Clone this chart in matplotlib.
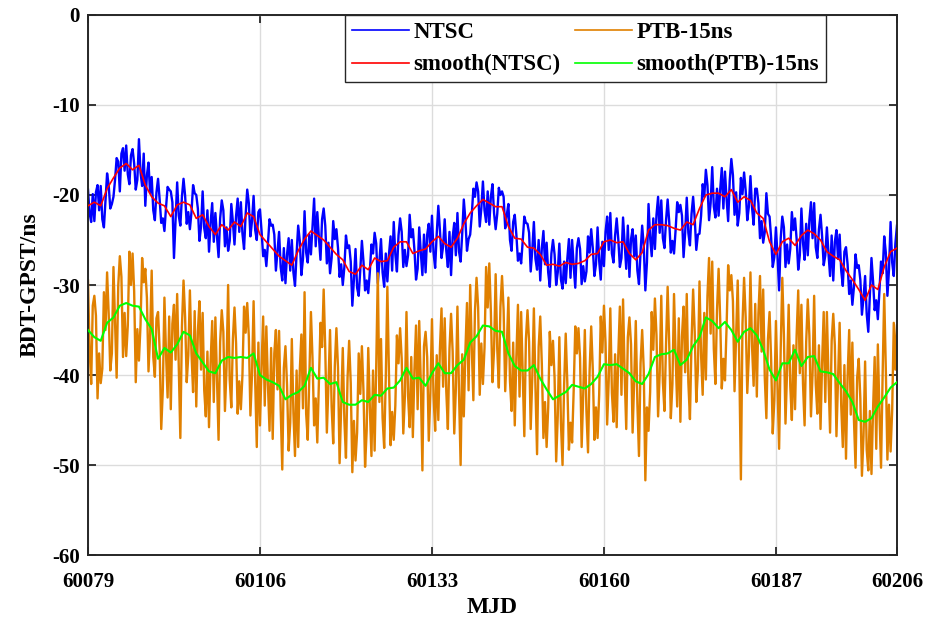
import numpy as np
import matplotlib
matplotlib.use("Agg")
import matplotlib.pyplot as plt

# --- data (MJD 60079 .. 60206) ---
MJD_START = 60079
MJD_END = 60206

# smoothed series, one value per day
smooth_ntsc = [
    -21.2, -20.8, -21.2, -19.3, -18.1, -17.0, -16.5, -17.2, -16.7, -18.9,
    -20.2, -20.9, -21.2, -22.4, -21.1, -20.8, -21.1, -22.6, -22.2, -23.5,
    -24.4, -23.3, -23.9, -23.0, -23.5, -22.0, -22.4, -24.4, -25.2, -26.0,
    -26.8, -27.3, -27.8, -26.2, -24.9, -24.0, -24.5, -25.0, -25.8, -26.6,
    -27.2, -28.5, -28.8, -27.8, -28.3, -27.0, -27.4, -27.3, -25.8, -25.2,
    -25.2, -26.5, -26.2, -26.0, -25.2, -24.6, -25.4, -25.8, -24.8, -23.2,
    -22.0, -21.2, -20.5, -20.9, -21.3, -21.3, -23.5, -24.8, -24.9, -25.8,
    -25.9, -26.6, -27.8, -27.7, -27.9, -27.5, -27.7, -27.6, -27.3, -26.6,
    -26.5, -25.2, -25.0, -25.3, -25.2, -26.5, -27.2, -26.4, -23.9, -23.3,
    -23.3, -23.4, -23.7, -23.9, -23.0, -23.3, -21.5, -20.0, -19.8, -19.8,
    -20.2, -19.4, -20.8, -20.2, -20.6, -22.0, -22.6, -25.2, -26.6, -25.2,
    -24.8, -25.6, -24.5, -23.9, -24.3, -25.0, -26.3, -26.8, -27.2, -28.4,
    -29.4, -30.5, -31.7, -30.0, -30.5, -28.0, -26.3, -25.9,
]
smooth_ptb = [
    -35.0, -35.8, -36.2, -34.2, -33.6, -32.3, -32.0, -32.3, -32.4, -33.8,
    -34.9, -38.2, -37.0, -37.5, -36.6, -35.2, -35.6, -37.6, -38.6, -39.6,
    -39.8, -38.4, -38.0, -38.1, -38.0, -38.1, -37.6, -40.0, -40.5, -40.8,
    -41.2, -42.7, -42.2, -41.9, -41.2, -39.2, -40.4, -40.3, -41.0, -40.8,
    -43.0, -43.3, -43.3, -42.8, -43.0, -42.2, -42.3, -41.5, -41.4, -40.6,
    -39.2, -40.4, -40.3, -41.2, -39.8, -38.7, -39.8, -39.8, -38.9, -38.3,
    -36.4, -35.7, -34.5, -34.6, -35.1, -35.2, -37.6, -39.0, -39.5, -39.5,
    -38.9, -40.4, -41.6, -42.7, -42.3, -41.9, -41.1, -41.3, -41.5, -41.0,
    -40.2, -38.8, -38.9, -38.8, -39.3, -39.8, -40.7, -41.0, -39.9, -38.0,
    -37.7, -37.6, -37.2, -38.9, -38.3, -36.8, -35.8, -33.6, -34.0, -34.8,
    -34.1, -35.0, -36.3, -35.2, -34.8, -35.6, -37.2, -39.4, -40.6, -38.7,
    -38.7, -37.2, -39.0, -38.0, -37.9, -39.6, -39.7, -39.9, -40.9, -41.8,
    -43.0, -45.0, -45.2, -44.8, -43.5, -42.5, -41.4, -40.8,
]

# raw series, four values per day
ntsc = [
    -19.4, -22.0, -23.0, -19.9, -22.9, -19.7, -18.9, -21.7,
    -19.0, -22.7, -23.6, -20.7, -17.6, -18.9, -21.5, -21.0,
    -20.2, -18.3, -15.9, -16.3, -19.6, -15.4, -14.8, -17.3,
    -14.5, -17.7, -18.8, -15.6, -14.9, -16.5, -19.4, -18.3,
    -13.8, -17.5, -19.0, -15.4, -21.2, -17.8, -16.4, -19.8,
    -18.0, -21.7, -22.8, -19.7, -18.2, -20.5, -23.1, -22.6,
    -24.0, -21.4, -19.1, -19.4, -19.6, -20.8, -27.0, -22.7,
    -18.6, -22.3, -23.4, -20.2, -18.2, -20.1, -23.2, -21.9,
    -23.8, -21.9, -18.9, -19.8, -20.0, -21.5, -25.1, -23.5,
    -19.6, -23.7, -24.8, -21.7, -26.3, -23.1, -20.9, -25.2,
    -22.0, -24.6, -26.9, -22.6, -20.6, -21.7, -25.7, -23.6,
    -26.2, -25.1, -21.0, -23.0, -25.5, -22.3, -20.4, -24.1,
    -20.8, -24.3, -26.0, -22.2, -19.4, -20.9, -24.6, -22.9,
    -20.1, -23.9, -25.0, -21.9, -21.6, -24.0, -26.8, -26.1,
    -27.9, -25.4, -22.7, -23.4, -23.3, -24.4, -28.4, -26.3,
    -24.1, -28.0, -29.5, -25.9, -29.8, -26.6, -24.8, -28.4,
    -25.0, -28.6, -30.1, -26.5, -23.4, -25.1, -28.9, -27.1,
    -21.8, -26.4, -27.5, -24.4, -26.6, -23.6, -20.4, -25.7,
    -21.9, -24.7, -27.2, -22.7, -21.5, -23.4, -27.6, -25.3,
    -28.7, -27.0, -22.9, -24.9, -23.8, -25.9, -29.1, -27.7,
    -30.0, -28.0, -24.5, -25.9, -25.6, -27.4, -32.3, -29.4,
    -26.0, -30.3, -31.2, -28.3, -25.1, -27.4, -30.6, -29.5,
    -30.9, -28.5, -25.5, -26.5, -24.2, -25.4, -29.8, -27.3,
    -24.9, -28.6, -30.2, -26.5, -29.6, -26.6, -24.6, -28.4,
    -23.0, -26.6, -28.5, -24.5, -22.6, -24.1, -28.0, -26.1,
    -27.9, -26.7, -22.2, -24.7, -23.8, -26.1, -29.4, -28.2,
    -23.6, -26.4, -28.9, -24.4, -28.6, -24.4, -23.2, -26.3,
    -22.3, -26.4, -28.1, -24.3, -21.2, -23.9, -27.0, -25.7,
    -22.7, -26.2, -28.0, -24.1, -28.9, -24.7, -23.1, -26.7,
    -22.0, -26.3, -27.4, -24.3, -20.5, -22.8, -26.2, -24.9,
    -24.4, -22.2, -19.3, -20.2, -18.6, -19.6, -23.5, -21.5,
    -18.5, -21.7, -23.0, -19.6, -23.3, -20.2, -18.8, -22.0,
    -23.8, -22.1, -19.2, -20.0, -19.6, -20.2, -23.7, -22.2,
    -21.0, -25.0, -26.2, -23.0, -22.2, -24.4, -27.3, -26.5,
    -27.6, -25.1, -22.4, -23.1, -23.2, -24.2, -28.5, -26.1,
    -23.0, -27.1, -28.3, -25.0, -29.5, -25.9, -24.0, -27.7,
    -25.3, -28.6, -30.2, -26.5, -25.0, -26.6, -30.0, -28.6,
    -25.4, -29.4, -30.4, -27.4, -29.8, -27.1, -24.9, -29.2,
    -25.0, -27.9, -30.3, -25.9, -24.8, -26.0, -29.9, -27.9,
    -29.6, -28.5, -24.6, -26.4, -23.8, -25.9, -29.0, -27.7,
    -23.6, -27.3, -29.4, -25.2, -27.9, -24.1, -22.4, -26.1,
    -22.0, -26.5, -27.5, -24.5, -22.6, -24.9, -28.0, -27.0,
    -22.5, -25.4, -28.2, -23.4, -29.1, -24.9, -23.8, -26.8,
    -24.5, -28.4, -29.9, -26.3, -23.4, -25.7, -30.6, -27.5,
    -21.0, -24.7, -26.8, -22.6, -26.0, -22.2, -20.2, -24.2,
    -20.6, -24.8, -25.9, -22.8, -20.5, -23.0, -26.4, -25.1,
    -26.5, -23.9, -20.8, -21.9, -21.1, -22.3, -26.9, -24.2,
    -20.3, -24.2, -25.6, -22.1, -20.2, -22.6, -26.1, -24.4,
    -24.3, -22.3, -18.8, -20.2, -17.2, -18.9, -22.8, -20.9,
    -16.9, -21.3, -22.5, -19.3, -22.3, -19.4, -17.0, -21.5,
    -17.4, -20.4, -22.9, -18.4, -16.0, -17.8, -22.2, -19.7,
    -23.4, -22.0, -18.1, -19.9, -17.5, -19.5, -22.8, -21.3,
    -17.9, -21.4, -23.3, -19.3, -19.3, -20.9, -24.8, -22.9,
    -25.3, -24.1, -19.8, -22.1, -22.4, -24.8, -28.0, -26.9,
    -23.6, -26.8, -30.6, -24.8, -22.4, -23.6, -28.0, -25.5,
    -27.6, -26.0, -21.9, -23.9, -22.6, -24.9, -28.3, -26.7,
    -21.5, -25.3, -27.2, -23.2, -26.7, -22.8, -20.8, -24.8,
    -20.9, -25.8, -27.0, -23.8, -22.2, -24.6, -27.8, -26.7,
    -23.6, -26.5, -29.0, -24.5, -29.5, -25.2, -23.9, -27.1,
    -24.4, -28.4, -30.1, -26.3, -25.8, -27.7, -31.0, -29.5,
    -32.2, -30.2, -26.6, -28.1, -27.8, -29.4, -33.3, -31.4,
    -29.0, -33.2, -35.2, -31.2, -27.0, -29.6, -32.8, -31.7,
    -33.8, -30.7, -27.4, -28.7, -24.6, -26.4, -31.2, -28.3,
    -23.0, -27.5, -29.0, -25.4, -23.4,
]
ptb = [
    -29.5, -37.0, -41.0, -32.3, -31.2, -33.4, -42.6, -37.6,
    -40.9, -39.3, -30.8, -35.0, -28.6, -33.2, -39.5, -37.6,
    -28.0, -34.2, -40.3, -30.1, -26.8, -29.1, -38.0, -33.1,
    -37.9, -34.5, -26.3, -30.0, -26.5, -30.7, -40.8, -34.9,
    -38.4, -34.4, -27.0, -29.7, -28.2, -31.4, -39.6, -35.6,
    -28.4, -38.0, -40.2, -33.7, -33.0, -37.2, -46.0, -41.6,
    -31.4, -37.6, -42.5, -33.5, -43.8, -34.3, -32.2, -38.3,
    -31.0, -39.1, -47.0, -34.6, -29.5, -33.6, -40.8, -37.8,
    -30.6, -37.6, -41.9, -32.9, -43.5, -35.2, -31.8, -39.4,
    -33.1, -41.7, -44.6, -37.4, -45.8, -38.6, -34.0, -43.0,
    -33.6, -40.4, -47.2, -36.3, -32.8, -35.2, -44.0, -39.2,
    -30.0, -40.5, -43.6, -36.0, -32.5, -36.5, -44.3, -40.7,
    -43.8, -40.0, -32.4, -35.3, -32.0, -35.7, -44.5, -39.9,
    -31.8, -40.7, -48.0, -36.4, -45.6, -39.0, -33.5, -43.4,
    -34.6, -41.1, -46.2, -37.0, -47.1, -37.6, -35.0, -41.6,
    -35.1, -43.7, -50.5, -39.2, -36.8, -41.1, -48.4, -45.3,
    -36.0, -44.2, -49.0, -39.5, -48.0, -39.5, -35.5, -43.7,
    -30.8, -44.3, -47.2, -40.0, -33.0, -38.2, -45.6, -42.6,
    -47.5, -41.0, -34.2, -36.9, -30.5, -37.1, -46.4, -41.1,
    -35.0, -43.5, -47.6, -39.0, -34.8, -39.2, -49.8, -43.4,
    -37.0, -45.0, -49.2, -40.3, -36.2, -40.9, -50.8, -45.1,
    -49.5, -46.4, -37.6, -42.1, -36.8, -41.8, -50.2, -46.2,
    -37.0, -43.6, -49.0, -39.5, -48.4, -39.0, -28.7, -43.0,
    -36.0, -44.8, -48.1, -40.3, -30.2, -39.9, -47.8, -44.1,
    -47.2, -43.4, -35.6, -38.7, -34.8, -38.2, -46.5, -42.4,
    -33.0, -42.3, -45.8, -38.0, -46.9, -39.4, -34.5, -43.8,
    -34.0, -40.9, -50.6, -36.8, -35.2, -38.0, -47.3, -42.0,
    -33.8, -42.3, -46.2, -37.8, -45.0, -37.1, -32.6, -41.3,
    -33.7, -41.8, -46.0, -37.1, -33.2, -37.4, -46.5, -41.6,
    -32.4, -42.0, -50.0, -37.7, -44.6, -37.3, -32.0, -41.7,
    -30.0, -37.0, -42.8, -32.9, -29.2, -32.5, -42.2, -36.5,
    -41.0, -37.0, -28.0, -32.5, -27.6, -33.0, -40.8, -37.2,
    -28.8, -37.1, -41.4, -32.4, -29.0, -32.8, -41.8, -37.0,
    -31.4, -40.7, -44.0, -36.4, -45.6, -38.0, -32.2, -42.4,
    -33.0, -40.1, -46.8, -36.0, -32.8, -36.3, -46.0, -40.3,
    -32.6, -41.4, -48.8, -36.9, -33.5, -38.8, -47.0, -43.0,
    -48.0, -43.6, -35.2, -38.9, -36.2, -40.3, -49.6, -44.5,
    -35.8, -45.4, -50.0, -41.1, -35.4, -40.9, -48.3, -45.3,
    -47.5, -41.7, -34.6, -37.6, -34.8, -38.1, -48.0, -42.1,
    -35.0, -44.0, -48.6, -39.5, -34.6, -39.4, -47.2, -43.6,
    -47.0, -42.2, -33.5, -37.5, -32.3, -36.4, -45.5, -40.6,
    -32.6, -42.0, -45.2, -37.7, -45.8, -37.8, -32.4, -42.2,
    -31.6, -39.9, -46.0, -35.8, -33.6, -36.6, -46.4, -40.6,
    -34.0, -43.2, -49.0, -38.7, -35.0, -39.4, -51.7, -43.6,
    -46.2, -41.9, -33.0, -37.2, -31.5, -35.6, -44.6, -39.8,
    -31.2, -40.8, -44.0, -36.5, -30.2, -36.6, -44.8, -41.0,
    -31.0, -37.8, -43.5, -33.7, -45.2, -35.7, -32.4, -39.7,
    -31.0, -40.8, -44.9, -36.3, -30.5, -35.2, -43.0, -39.4,
    -29.6, -37.8, -42.2, -33.1, -40.5, -31.2, -27.0, -35.4,
    -27.4, -37.1, -41.0, -32.8, -28.2, -33.8, -41.5, -38.2,
    -40.6, -34.7, -27.8, -30.6, -28.9, -31.8, -41.8, -35.8,
    -29.5, -38.8, -51.6, -34.3, -29.2, -33.6, -42.0, -37.8,
    -28.6, -36.8, -41.2, -32.1, -42.4, -33.2, -29.0, -37.4,
    -30.5, -40.3, -44.8, -36.0, -33.0, -38.4, -46.5, -42.8,
    -34.0, -41.2, -48.2, -37.1, -29.2, -35.5, -45.4, -39.5,
    -32.2, -41.2, -45.0, -36.7, -43.8, -35.6, -30.6, -39.8,
    -32.2, -41.0, -45.6, -36.3, -31.6, -35.6, -44.6, -39.8,
    -31.2, -41.0, -44.3, -36.7, -46.0, -38.6, -33.0, -43.0,
    -33.0, -40.3, -46.4, -36.2, -33.2, -36.7, -46.8, -40.7,
    -34.2, -43.4, -48.0, -38.9, -49.3, -40.2, -35.0, -44.4,
    -36.4, -45.0, -50.3, -40.3, -38.2, -42.6, -51.2, -46.8,
    -38.5, -48.3, -50.6, -44.0, -51.0, -43.8, -38.0, -48.2,
    -36.6, -44.1, -50.3, -40.0, -31.0, -39.3, -49.4, -43.3,
    -48.5, -43.9, -34.2, -39.4, -34.5,
]

x_raw = np.linspace(MJD_START, MJD_END, len(ntsc))
x_smooth = np.linspace(MJD_START, MJD_END, len(smooth_ntsc))

xticks = [60079, 60106, 60133, 60160, 60187, 60206]
yticks = [-60, -50, -40, -30, -20, -10, 0]

# --- style ---
plt.rcParams['font.family'] = ['Liberation Serif', 'DejaVu Serif']
plt.rcParams['font.weight'] = 'bold'

fig = plt.figure(figsize=(9.32, 6.22), dpi=100)
ax = fig.add_axes([0.0944, 0.1077, 0.868, 0.8682])

ax.plot(x_raw, ntsc, color='#0000FF', lw=1.7, label='NTSC', zorder=2)
ax.plot(x_raw, ptb, color='#E08000', lw=1.7, label='PTB-15ns', zorder=2)
ax.plot(x_smooth, smooth_ntsc, color='#FF0000', lw=1.2, label='smooth(NTSC)', zorder=3)
ax.plot(x_smooth, smooth_ptb, color='#00FF00', lw=1.5, label='smooth(PTB)-15ns', zorder=3)

ax.set_xlim(MJD_START, MJD_END)
ax.set_ylim(-60, 0)
ax.set_xticks(xticks)
ax.set_yticks(yticks)
ax.set_xticklabels([str(t) for t in xticks])
ax.set_yticklabels([str(t) for t in yticks])
ax.grid(True, color='#dcdcdc', lw=1.0, zorder=0)
ax.set_axisbelow(True)

ax.tick_params(direction='in', length=6, width=1.3, top=True, right=True,
               labelsize=15, colors='#262626')
ax.tick_params(axis='x', pad=12)
ax.tick_params(axis='y', pad=6)
for lab in ax.get_xticklabels() + ax.get_yticklabels():
    lab.set_fontweight('bold')
    lab.set_color('black')
for sp in ax.spines.values():
    sp.set_linewidth(1.4)
    sp.set_color('#262626')

ax.set_xlabel('MJD', fontsize=17, fontweight='bold', labelpad=4)
ax.set_ylabel('BDT-GPST/ns', fontsize=17, fontweight='bold', labelpad=8)

h, l = ax.get_legend_handles_labels()
order = [0, 2, 1, 3]
leg = ax.legend([h[i] for i in order], [l[i] for i in order], ncol=2,
                loc='upper right', bbox_to_anchor=(0.912, 1.0),
                frameon=True, fancybox=False, framealpha=1,
                edgecolor='#262626', borderaxespad=0, handlelength=2.5,
                handletextpad=0.2, columnspacing=0.6, labelspacing=0.5,
                borderpad=0.3, prop={'weight': 'bold', 'size': 16.5})
leg.get_frame().set_linewidth(1.0)
leg.set_zorder(5)
for lh in leg.get_lines():
    lh.set_linewidth(1.2)

fig.savefig('out.png', dpi=100)
